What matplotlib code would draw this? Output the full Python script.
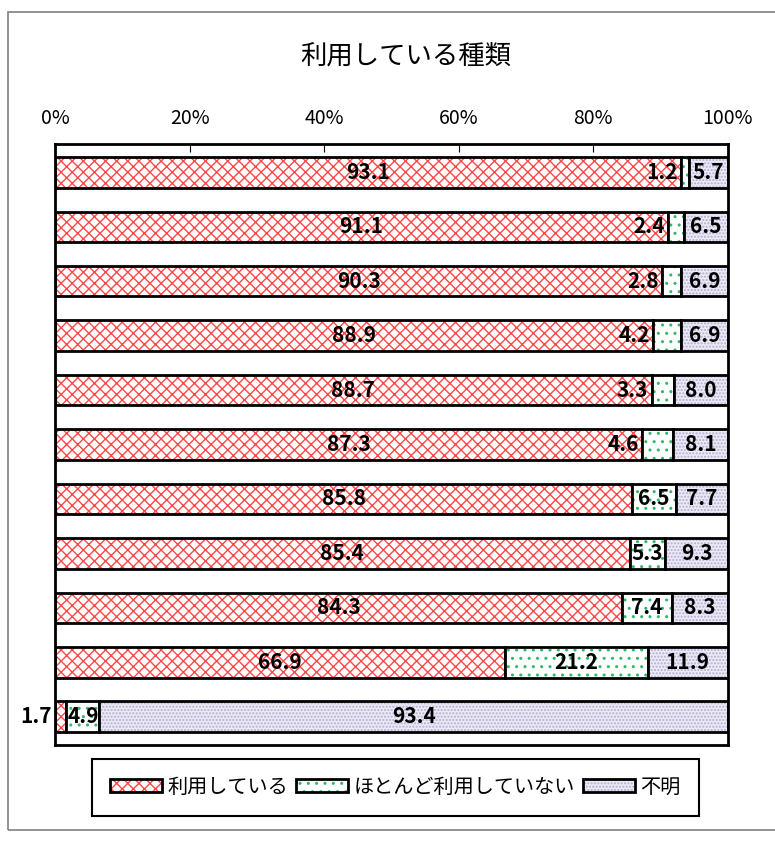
import matplotlib
matplotlib.use("Agg")
import matplotlib.pyplot as plt
from matplotlib.patches import Patch, Rectangle
import numpy as np

plt.rcParams['font.family'] = ['Noto Sans CJK JP', 'DejaVu Sans']
plt.rcParams['hatch.linewidth'] = 1.0

title = '利用している種類'
series_names = ['利用している', 'ほとんど利用していない', '不明']
used = [93.1, 91.1, 90.3, 88.9, 88.7, 87.3, 85.8, 85.4, 84.3, 66.9, 1.7]
rarely = [1.2, 2.4, 2.8, 4.2, 3.3, 4.6, 6.5, 5.3, 7.4, 21.2, 4.9]
unknown = [5.7, 6.5, 6.9, 6.9, 8.0, 8.1, 7.7, 9.3, 8.3, 11.9, 93.4]
xticks = [0, 20, 40, 60, 80, 100]
xticklabels = ['0%', '20%', '40%', '60%', '80%', '100%']

# fill / hatch styles per series
styles = [
    dict(facecolor='white', hatchcolor='#ff4848', hatch='xxx'),
    dict(facecolor='white', hatchcolor='#30b868', hatch='..'),
    dict(facecolor='#eceaf4', hatchcolor='#b4acd4', hatch='.....'),
]

fig = plt.figure(figsize=(7.75, 8.41), dpi=100)
ax = fig.add_axes([0.071, 0.1141, 0.868, 0.7146])

# outer chart frame (gray)
fig.patches.append(Rectangle((8 / 775, 1 - 830 / 841), 1.0, (830 - 12) / 841,
                             transform=fig.transFigure, fill=False,
                             edgecolor='#808080', linewidth=1.2))

y = np.arange(len(used))
h = 0.56
left = np.zeros(len(used))
handles = []
for vals, st, name in zip([used, rarely, unknown], styles, series_names):
    vals = np.array(vals)
    ax.barh(y, vals, left=left, height=h, color=st['facecolor'],
            edgecolor=st['hatchcolor'], hatch=st['hatch'], linewidth=0)
    ax.barh(y, vals, left=left, height=h, fill=False,
            edgecolor='black', linewidth=2)
    for yi, l, v in zip(y, left, vals):
        if v < 4.8:
            ax.text(l - 0.5, yi, f'{v:.1f}', ha='right', va='center',
                    fontsize=15, fontweight='bold')
        else:
            ax.text(l + v / 2, yi, f'{v:.1f}', ha='center', va='center',
                    fontsize=15, fontweight='bold')
    p1 = Patch(facecolor=st['facecolor'], edgecolor=st['hatchcolor'],
               hatch=st['hatch'], linewidth=0)
    p2 = Patch(fill=False, edgecolor='black', linewidth=2)
    handles.append((p1, p2))
    left = left + vals

ax.set_xlim(0, 100)
ax.set_ylim(len(used) - 0.48, -0.52)
ax.set_yticks([])
ax.xaxis.tick_top()
ax.set_xticks(xticks)
ax.set_xticklabels(xticklabels, fontsize=14)
ax.tick_params(axis='x', direction='in', length=6, pad=11, width=0.8)
for s in ax.spines.values():
    s.set_linewidth(2)

fig.text(0.524, 0.933, title, ha='center', va='center', fontsize=19)

leg = fig.legend(handles, series_names, loc='center',
                 bbox_to_anchor=(0.51, 0.064), ncol=3, fontsize=14.5,
                 frameon=True, fancybox=False, framealpha=1,
                 handlelength=2.6, handleheight=0.55, handletextpad=0.25,
                 columnspacing=0.4, borderpad=0.9, borderaxespad=0.3)
leg.get_frame().set_edgecolor('black')
leg.get_frame().set_linewidth(1.5)

fig.savefig('out.png', dpi=100)
